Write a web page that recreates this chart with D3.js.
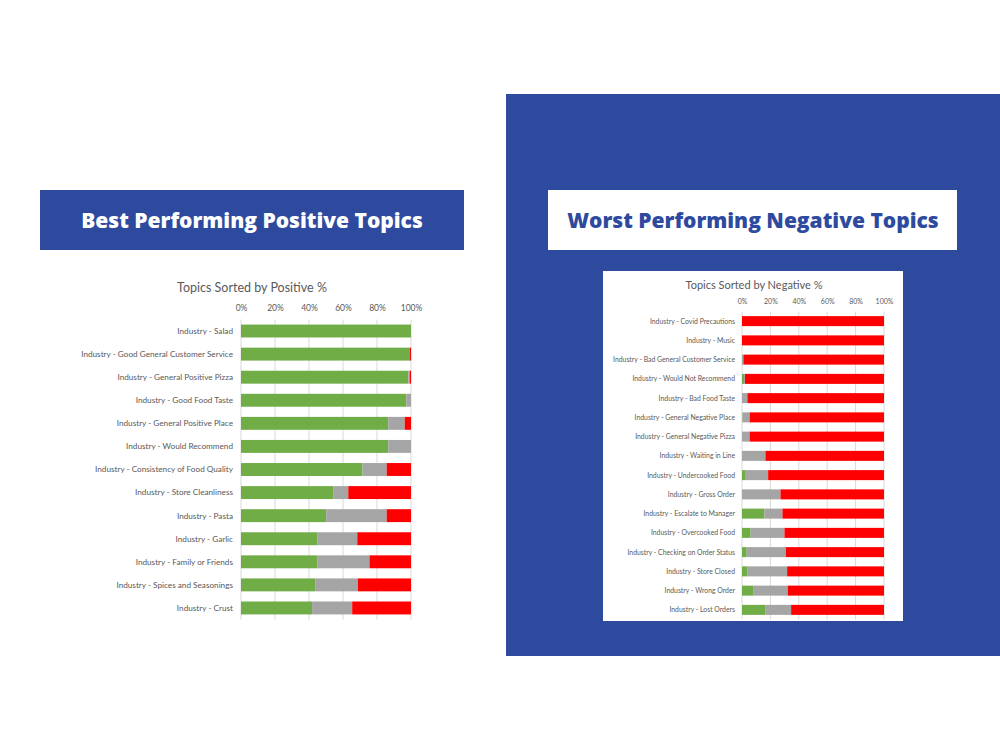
<!DOCTYPE html>
<html>
<head>
<meta charset="utf-8">
<script src="https://cdn.jsdelivr.net/npm/d3@7"></script>
<style>
  body { margin: 0; background: #fff; }
  svg { display: block; }
</style>
</head>
<body>
<svg width="1000" height="750"></svg>
<script>
var width = 1000, height = 750;
var blue = "#2e4a9e";
var colors = {pos: "#70ad47", neu: "#a5a5a5", neg: "#ff0000"};

// left chart data (percent)
var posTopics = ["Industry - Salad", "Industry - Good General Customer Service", "Industry - General Positive Pizza",
  "Industry - Good Food Taste", "Industry - General Positive Place", "Industry - Would Recommend",
  "Industry - Consistency of Food Quality", "Industry - Store Cleanliness", "Industry - Pasta",
  "Industry - Garlic", "Industry - Family or Friends", "Industry - Spices and Seasonings", "Industry - Crust"];
var posPositive = [100, 99.2, 98.4, 97.2, 86.6, 86.6, 71.5, 54.2, 50.1, 44.8, 44.8, 43.6, 41.8];
var posNeutral  = [0, 0, 0.8, 2.8, 9.7, 13.4, 14.2, 8.9, 35.6, 23.6, 30.8, 25.2, 23.6];
var posNegative = [0, 0.8, 0.8, 0, 3.7, 0, 14.3, 36.9, 14.3, 31.6, 24.4, 31.2, 34.6];

// right chart data (percent)
var negTopics = ["Industry - Covid Precautions", "Industry - Music", "Industry - Bad General Customer Service",
  "Industry - Would Not Recommend", "Industry - Bad Food Taste", "Industry - General Negative Place",
  "Industry - General Negative Pizza", "Industry - Waiting in Line", "Industry - Undercooked Food",
  "Industry - Gross Order", "Industry - Escalate to Manager", "Industry - Overcooked Food",
  "Industry - Checking on Order Status", "Industry - Store Closed", "Industry - Wrong Order", "Industry - Lost Orders"];
var negPositive = [0, 0, 0, 1.4, 0, 0.3, 0, 0, 2.1, 0, 15.8, 6.1, 3.3, 4.0, 7.8, 16.7];
var negNeutral  = [0, 0, 1.0, 0.7, 3.8, 5.1, 5.4, 16.5, 16.3, 27.1, 12.7, 23.8, 27.5, 27.8, 24.4, 17.9];
var negNegative = [100, 100, 99.0, 97.9, 96.2, 94.6, 94.6, 83.5, 81.6, 72.9, 71.5, 70.1, 69.2, 68.2, 67.8, 65.4];

var tickVals = [0, 20, 40, 60, 80, 100];

var svg = d3.select("svg");

// blue panel behind right side
svg.append("rect").attr("x", 506).attr("y", 94).attr("width", 494).attr("height", 562).attr("fill", blue);

// banners
svg.append("rect").attr("x", 40).attr("y", 190).attr("width", 424).attr("height", 60).attr("fill", blue);
svg.append("text").attr("x", 252).attr("y", 228).attr("text-anchor", "middle")
  .attr("font-family", "'Open Sans', sans-serif").attr("font-weight", 800).attr("font-size", 21)
  .attr("fill", "#fff").text("Best Performing Positive Topics");

svg.append("rect").attr("x", 548).attr("y", 190).attr("width", 409).attr("height", 60).attr("fill", "#fff");
svg.append("text").attr("x", 753).attr("y", 228).attr("text-anchor", "middle")
  .attr("font-family", "'Open Sans', sans-serif").attr("font-weight", 800).attr("font-size", 21)
  .attr("fill", blue).text("Worst Performing Negative Topics");

// white chart box on the right
svg.append("rect").attr("x", 603).attr("y", 271).attr("width", 300).attr("height", 350).attr("fill", "#fff");

function drawChart(opt) {
  var g = svg.append("g");
  var x = d3.scaleLinear().domain([0, 100]).range([opt.x0, opt.x1]);
  var y = d3.scaleBand().domain(opt.topics).range([opt.y0, opt.y1])
    .paddingInner(opt.pad).paddingOuter(opt.pad / 2);

  g.append("text").attr("x", opt.titleX).attr("y", opt.titleY).attr("text-anchor", "middle")
    .attr("font-family", "Lato, sans-serif").attr("font-size", opt.titleSize).attr("fill", "#595959")
    .text(opt.title);

  // gridlines
  g.selectAll(".grid").data(tickVals).join("line")
    .attr("x1", d => x(d)).attr("x2", d => x(d))
    .attr("y1", opt.y0).attr("y2", opt.y1)
    .attr("stroke", "#d9d9d9").attr("stroke-width", 1);

  var ax = g.append("g").attr("transform", "translate(0," + opt.axisY + ")")
    .call(d3.axisTop(x).tickValues(tickVals).tickSize(0).tickFormat(d => d + "%"));
  ax.select(".domain").remove();
  ax.selectAll("text").attr("font-family", "Lato, sans-serif").attr("font-size", opt.tickSize).attr("fill", "#595959");

  var rows = opt.topics.map(function (t, i) {
    return {topic: t, pos: opt.pos[i], neu: opt.neu[i], neg: opt.neg[i]};
  });
  var stack = d3.stack().keys(["pos", "neu", "neg"])(rows);
  g.selectAll(".series").data(stack).join("g")
    .attr("fill", d => colors[d.key])
    .selectAll("rect").data(d => d).join("rect")
    .attr("x", d => x(d[0]))
    .attr("width", d => Math.max(0, x(d[1]) - x(d[0])))
    .attr("y", d => y(d.data.topic))
    .attr("height", y.bandwidth());

  g.selectAll(".lbl").data(opt.topics).join("text")
    .attr("x", opt.x0 - opt.labelGap).attr("y", d => y(d) + y.bandwidth() / 2)
    .attr("dy", "0.35em").attr("text-anchor", "end")
    .attr("font-family", "Lato, sans-serif").attr("font-size", opt.labelSize).attr("fill", "#595959")
    .text(d => d);
}

drawChart({
  topics: posTopics, pos: posPositive, neu: posNeutral, neg: posNegative,
  x0: 241, x1: 411, y0: 319.5, y1: 619.5, pad: 0.44,
  title: "Topics Sorted by Positive %", titleX: 252, titleY: 292, titleSize: 12.5,
  axisY: 314, tickSize: 8.5, labelSize: 8.2, labelGap: 8
});

drawChart({
  topics: negTopics, pos: negPositive, neu: negNeutral, neg: negNegative,
  x0: 742, x1: 884, y0: 311.5, y1: 619.5, pad: 0.48,
  title: "Topics Sorted by Negative %", titleX: 754, titleY: 289, titleSize: 11,
  axisY: 307, tickSize: 7, labelSize: 6.85, labelGap: 7
});
</script>
</body>
</html>
